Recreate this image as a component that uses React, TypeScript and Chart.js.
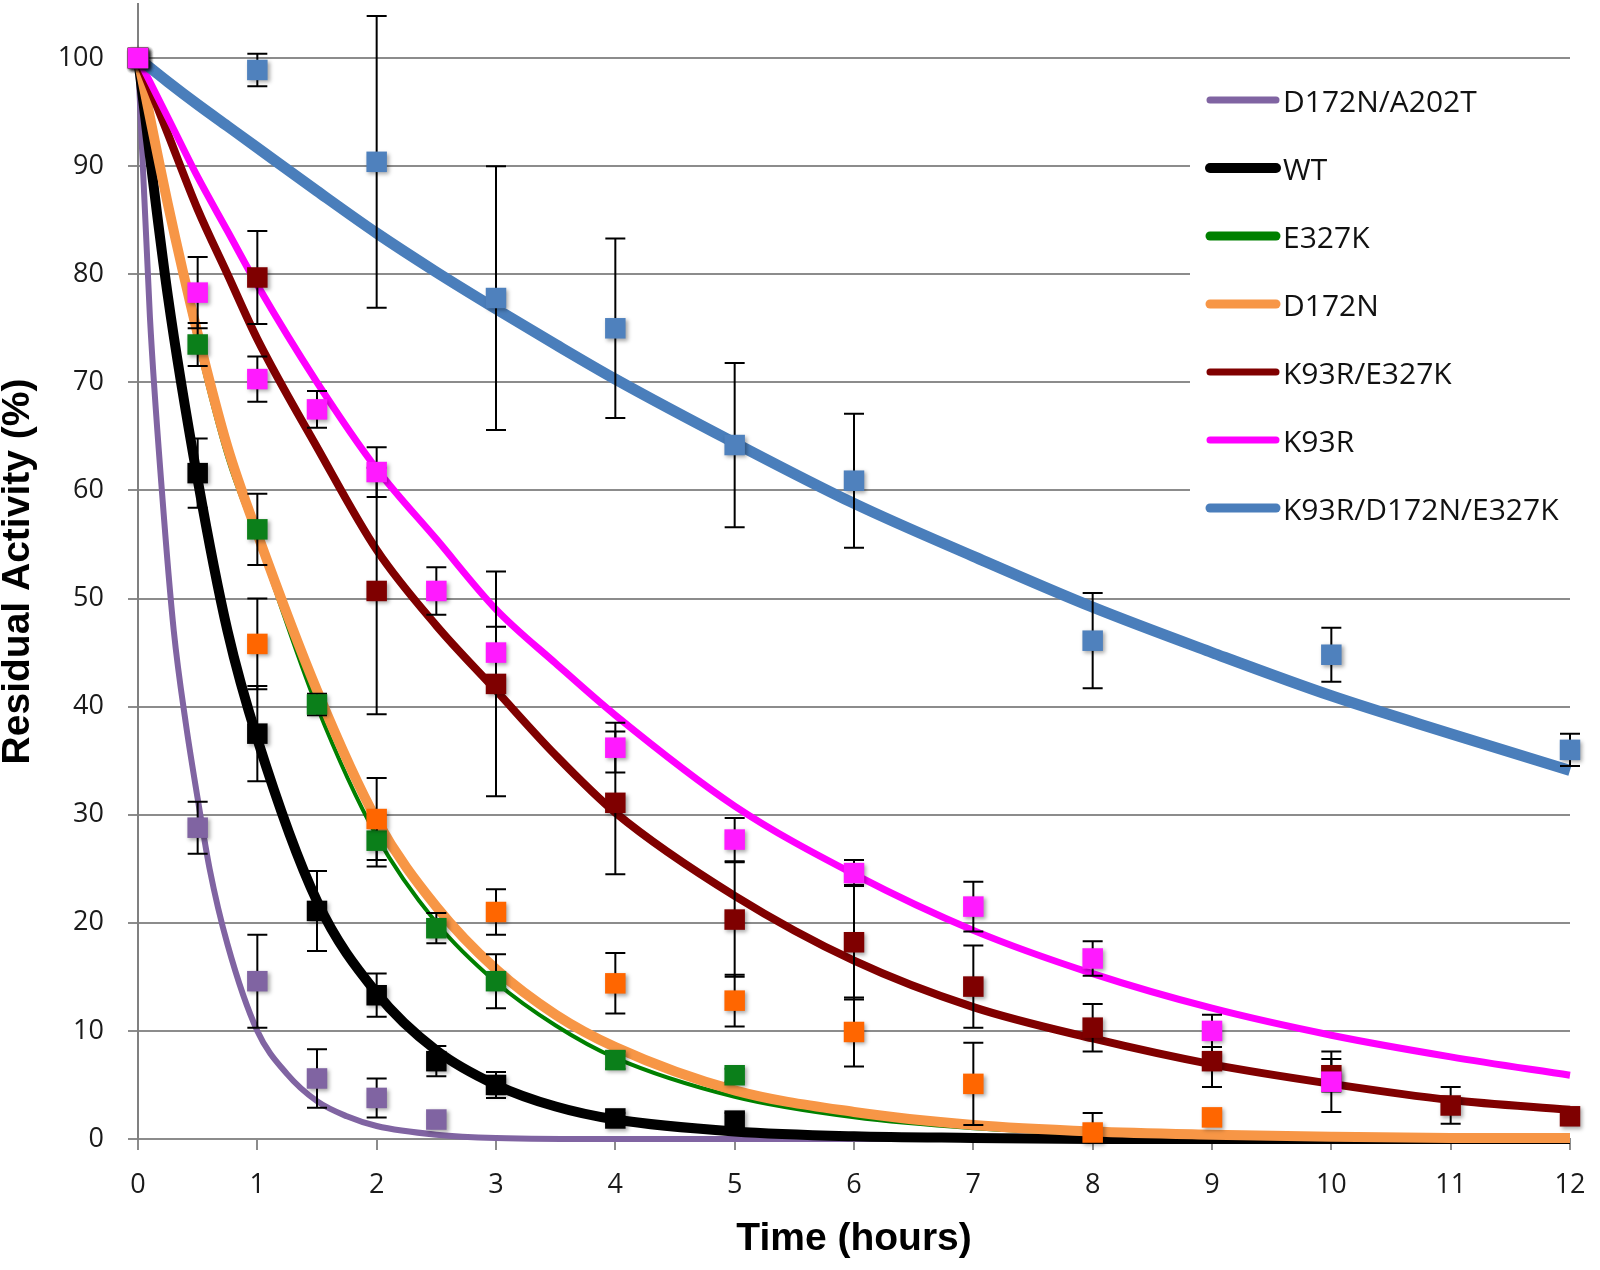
import { useEffect, useRef } from "react";
import { Chart, registerables, type Plugin } from "chart.js";

Chart.register(...registerables);

// series names, legend order
const seriesNames = [
  "D172N/A202T",
  "WT",
  "E327K",
  "D172N",
  "K93R/E327K",
  "K93R",
  "K93R/D172N/E327K",
];
const lineColors = ["#8064A2", "#000000", "#008000", "#F79646", "#800000", "#FF00FF", "#4A7EBB"];
const markerColors = ["#8064A2", "#000000", "#0B7F1A", "#FF6600", "#7F0000", "#FF1AFF", "#4F81BD"];
const lineWidths = [6, 10, 4, 10, 8, 7, 11];
const legendWidths = [7, 10, 9, 9, 7, 7, 9];

const xTicks = [0, 1, 2, 3, 4, 5, 6, 7, 8, 9, 10, 11, 12];
const yTicks = [0, 10, 20, 30, 40, 50, 60, 70, 80, 90, 100];

// measured points (hours, % activity, error)
const d172nA202tHours = [0, 0.5, 1, 1.5, 2, 2.5];
const d172nA202tActivity = [100, 28.8, 14.6, 5.6, 3.8, 1.8];
const d172nA202tError = [0, 2.4, 4.3, 2.7, 1.8, 0];

const wtHours = [0, 0.5, 1, 1.5, 2, 2.5, 3, 4, 5];
const wtActivity = [100, 61.6, 37.5, 21.1, 13.3, 7.2, 5.0, 1.9, 1.7];
const wtError = [0, 3.2, 4.4, 3.7, 2.0, 1.4, 1.2, 0.5, 0.7];

const e327kHours = [0, 0.5, 1, 1.5, 2, 2.5, 3, 4, 5];
const e327kActivity = [100, 73.5, 56.4, 40.2, 27.6, 19.5, 14.6, 7.3, 5.9];
const e327kError = [0, 2, 3.3, 1, 2.4, 1.4, 2.5, 0.8, 0.6];

const d172nHours = [0, 1, 2, 3, 4, 5, 6, 7, 8, 9];
const d172nActivity = [100, 45.8, 29.6, 21.0, 14.4, 12.8, 9.9, 5.1, 0.6, 2.0];
const d172nError = [0, 4.2, 3.8, 2.1, 2.8, 2.4, 3.2, 3.8, 1.8, 0.6];

const k93rE327kHours = [0, 1, 2, 3, 4, 5, 6, 7, 8, 9, 10, 11, 12];
const k93rE327kActivity = [100, 79.7, 50.7, 42.1, 31.1, 20.3, 18.2, 14.1, 10.3, 7.2, 5.9, 3.1, 2.1];
const k93rE327kError = [0, 4.3, 11.4, 10.4, 6.6, 5.3, 5.3, 3.8, 2.2, 2.4, 1.5, 1.7, 0.5];

const k93rHours = [0, 0.5, 1, 1.5, 2, 2.5, 3, 4, 5, 6, 7, 8, 9, 10];
const k93rActivity = [100, 78.3, 70.3, 67.5, 61.7, 50.7, 45.0, 36.2, 27.7, 24.6, 21.5, 16.7, 10.0, 5.3];
const k93rError = [0, 3.3, 2.1, 1.7, 2.3, 2.2, 2.4, 2.3, 2.0, 1.2, 2.3, 1.6, 1.5, 2.8];

const tripleHours = [0, 1, 2, 3, 4, 5, 6, 8, 10, 12];
const tripleActivity = [100, 98.9, 90.4, 77.8, 75.0, 64.2, 60.9, 46.1, 44.8, 36.0];
const tripleError = [0, 1.5, 13.5, 12.2, 8.3, 7.6, 6.2, 4.4, 2.5, 1.5];

// fitted decay curves
const d172nA202tFitHours = [0, 0.1, 0.2, 0.3, 0.4, 0.5, 0.6, 0.75, 1, 1.25, 1.5, 1.75, 2, 2.5, 3, 4, 6, 12];
const d172nA202tFit = [100, 76, 60, 47, 38.5, 31.5, 25, 18, 10, 6, 3.5, 2.1, 1.2, 0.4, 0.1, 0, 0, 0];

const fitHours = [0, 0.25, 0.5, 0.75, 1, 1.5, 2, 2.5, 3, 3.5, 4, 5, 6, 7, 8, 9, 10, 11, 12];
const wtFit = [100, 78, 61, 47, 37, 22, 13.5, 8.2, 5, 3, 1.8, 0.7, 0.25, 0.1, 0, 0, 0, 0, 0];
const e327kFit = [100, 86, 73.5, 63, 55.5, 40, 28, 20, 14.5, 10.5, 7.5, 3.9, 2, 1, 0.5, 0.2, 0.1, 0, 0];
const d172nFit = [100, 86.5, 74.5, 64, 56, 41.5, 29.5, 21.5, 15.7, 11.5, 8.5, 4.5, 2.5, 1.3, 0.7, 0.4, 0.2, 0.1, 0.1];
const k93rE327kFit = [100, 93, 86, 80, 74, 64, 54.5, 47.5, 41.5, 35.5, 30.2, 22.5, 16.5, 12.2, 9.3, 6.9, 5.1, 3.6, 2.7];
const k93rFit = [100, 94.5, 89, 84, 79, 70, 62, 55.5, 49, 44, 39.2, 30.8, 24.5, 19.3, 15.3, 12.1, 9.6, 7.6, 5.9];
const tripleFit = [100, 97.8, 95.7, 93.7, 91.7, 87.7, 83.8, 80.2, 76.8, 73.5, 70.3, 64.4, 58.8, 53.9, 49.2, 45, 41, 37.5, 34.1];

const pointSets = [
  [d172nA202tHours, d172nA202tActivity, d172nA202tError],
  [wtHours, wtActivity, wtError],
  [e327kHours, e327kActivity, e327kError],
  [d172nHours, d172nActivity, d172nError],
  [k93rE327kHours, k93rE327kActivity, k93rE327kError],
  [k93rHours, k93rActivity, k93rError],
  [tripleHours, tripleActivity, tripleError],
];
const fitSets = [
  [d172nA202tFitHours, d172nA202tFit],
  [fitHours, wtFit],
  [fitHours, e327kFit],
  [fitHours, d172nFit],
  [fitHours, k93rE327kFit],
  [fitHours, k93rFit],
  [fitHours, tripleFit],
];
// which marker ends up on top (lower = drawn later)
const markerOrder = [6, 5, 4, 3, 2, 0, 1];

const zip = (xs: number[], ys: number[]) => xs.map((x, i) => ({ x, y: ys[i] }));

const errorBars: Plugin<"scatter"> = {
  id: "errorBars",
  beforeDatasetsDraw(chart) {
    (chart as any).$errDone = false;
  },
  beforeDatasetDraw(chart, args) {
    const ds: any = chart.data.datasets[args.index];
    if (!ds.errors) return;
    const ctx = chart.ctx;
    if (!(chart as any).$errDone) {
      (chart as any).$errDone = true;
      const x = chart.scales.x;
      const y = chart.scales.y;
      const area = chart.chartArea;
      ctx.save();
      // keep bars inside the plot, like the original
      ctx.beginPath();
      ctx.rect(area.left - 20, area.top, area.right - area.left + 40, area.bottom - area.top - 1);
      ctx.clip();
      ctx.strokeStyle = "#000";
      ctx.lineWidth = 2;
      chart.data.datasets.forEach((d: any) => {
        if (!d.errors) return;
        d.data.forEach((p: { x: number; y: number }, i: number) => {
          const e = d.errors[i];
          if (!e) return;
          const px = x.getPixelForValue(p.x);
          const top = y.getPixelForValue(p.y + e);
          const bot = y.getPixelForValue(p.y - e);
          ctx.beginPath();
          ctx.moveTo(px, top);
          ctx.lineTo(px, bot);
          ctx.moveTo(px - 10, top);
          ctx.lineTo(px + 10, top);
          ctx.moveTo(px - 10, bot);
          ctx.lineTo(px + 10, bot);
          ctx.stroke();
        });
      });
      ctx.restore();
    }
    ctx.save();
    ctx.shadowColor = "rgba(0,0,0,0.35)";
    ctx.shadowBlur = 4;
    ctx.shadowOffsetX = 2;
    ctx.shadowOffsetY = 2;
  },
  afterDatasetDraw(chart, args) {
    const ds: any = chart.data.datasets[args.index];
    if (ds.errors) chart.ctx.restore();
  },
};

const legendBox: Plugin<"scatter"> = {
  id: "legendBox",
  beforeDatasetsDraw(chart) {
    const ctx = chart.ctx;
    ctx.save();
    ctx.fillStyle = "#fff";
    ctx.fillRect(1190, 70, 381, 475);
    ctx.lineCap = "round";
    ctx.font = "30px 'Open Sans'";
    ctx.textBaseline = "middle";
    seriesNames.forEach((name, i) => {
      const cy = 100 + i * 68;
      ctx.strokeStyle = lineColors[i];
      ctx.lineWidth = legendWidths[i];
      ctx.beginPath();
      ctx.moveTo(1210, cy);
      ctx.lineTo(1276, cy);
      ctx.stroke();
      ctx.fillStyle = "#111";
      ctx.fillText(name, 1283, cy + 3);
    });
    ctx.restore();
  },
};

export default function App() {
  const canvasRef = useRef<HTMLCanvasElement>(null);

  useEffect(() => {
    document.body.style.margin = "0";
    if (!canvasRef.current) return;

    const lineSets = fitSets.map(([xs, ys], i) => ({
      type: "line" as const,
      label: seriesNames[i] + " fit",
      data: zip(xs, ys),
      borderColor: lineColors[i],
      borderWidth: lineWidths[i],
      pointRadius: 0,
      showLine: true,
      cubicInterpolationMode: "monotone" as const,
      fill: false,
      clip: false as const,
      order: 20 - i,
    }));
    const markerSets = pointSets.map(([xs, ys, errs], i) => ({
      type: "scatter" as const,
      label: seriesNames[i],
      data: zip(xs, ys),
      errors: errs,
      backgroundColor: markerColors[i],
      borderWidth: 0,
      pointStyle: "rect" as const,
      pointRadius: 14.5,
      showLine: false,
      clip: false as const,
      order: markerOrder[i],
    }));

    const chart = new Chart(canvasRef.current, {
      type: "scatter",
      data: { datasets: [...lineSets, ...markerSets] as any },
      options: {
        responsive: false,
        devicePixelRatio: 1,
        animation: false,
        layout: { autoPadding: false, padding: { left: 0, right: 30, top: 4, bottom: 0 } },
        plugins: { legend: { display: false }, tooltip: { enabled: false } },
        scales: {
          x: {
            type: "linear",
            min: 0,
            max: 12,
            afterFit: (s) => {
              s.height = 131;
              s.paddingLeft = 0;
              s.paddingRight = 0;
            },
            afterBuildTicks: (s) => {
              s.ticks = xTicks.map((v) => ({ value: v }));
            },
            grid: { drawOnChartArea: false, drawTicks: true, tickLength: 11, color: "#8c8c8c", lineWidth: 2 },
            border: { color: "#8c8c8c", width: 2 },
            ticks: { color: "#1a1a1a", font: { family: "'Open Sans'", size: 27 }, padding: 19, maxRotation: 0 },
            title: {
              display: true,
              text: "Time (hours)",
              color: "#000",
              font: { family: "'Liberation Sans'", size: 39, weight: "bold" },
              padding: { top: 0, bottom: 7 },
            },
          },
          y: {
            type: "linear",
            min: 0,
            max: 105,
            afterFit: (s) => {
              s.width = 138;
              s.paddingTop = 0;
              s.paddingBottom = 0;
            },
            afterBuildTicks: (s) => {
              s.ticks = yTicks.map((v) => ({ value: v }));
            },
            grid: { color: "#8c8c8c", lineWidth: 2, tickLength: 10 },
            border: { color: "#808080", width: 2 },
            ticks: { color: "#1a1a1a", font: { family: "'Open Sans'", size: 27 }, padding: 24 },
            title: {
              display: true,
              text: "Residual Activity (%)",
              color: "#000",
              font: { family: "'Liberation Sans'", size: 39, weight: "bold", lineHeight: 0.95 },
              padding: { top: 0, bottom: 0 },
            },
          },
        },
      },
      plugins: [errorBars, legendBox],
    });
    return () => chart.destroy();
  }, []);

  return <canvas ref={canvasRef} width={1600} height={1270} />;
}
